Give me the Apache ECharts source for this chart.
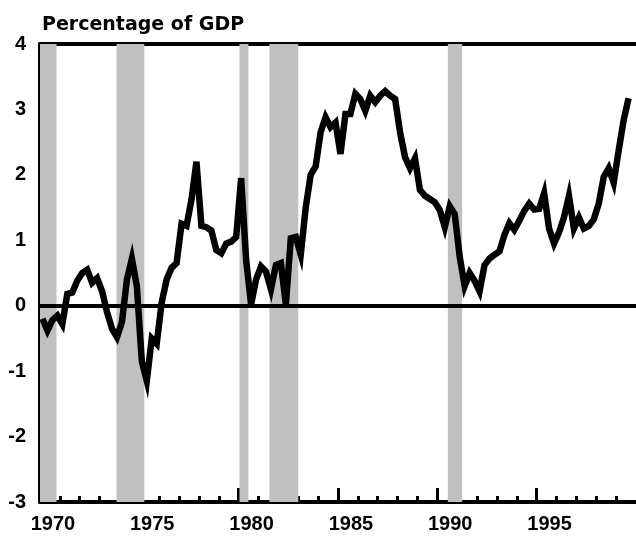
<!DOCTYPE html>
<html>
<head>
<meta charset="utf-8">
<script src="https://cdn.jsdelivr.net/npm/echarts@6/dist/echarts.min.js"></script>
<style>
  html, body { margin: 0; padding: 0; background: #fff; }
  #chart { width: 636px; height: 538px; }
</style>
</head>
<body>
<div id="chart"></div>
<script>
// quarterly data, first point 1970 Q1
var startYear = 1970;
var values = [
  -0.2, -0.38, -0.22, -0.15, -0.28, 0.18, 0.2, 0.38,
  0.5, 0.55, 0.35, 0.42, 0.22, -0.1, -0.35, -0.48,
  -0.25, 0.4, 0.72, 0.3, -0.85, -1.15, -0.5, -0.58,
  0.05, 0.4, 0.58, 0.65, 1.25, 1.22, 1.62, 2.2,
  1.22, 1.2, 1.15, 0.85, 0.8, 0.95, 0.98, 1.05,
  1.95, 0.7, 0.02, 0.4, 0.6, 0.52, 0.25, 0.62,
  0.65, 0.02, 1.03, 1.05, 0.78, 1.5, 2.0, 2.13,
  2.65, 2.88, 2.73, 2.8, 2.32, 2.93, 2.93, 3.24,
  3.16, 2.98, 3.21, 3.11, 3.21, 3.28, 3.21, 3.16,
  2.65, 2.27, 2.1, 2.25, 1.77, 1.68, 1.63, 1.58,
  1.46, 1.2, 1.52, 1.4, 0.75, 0.3, 0.5, 0.38,
  0.22, 0.62, 0.72, 0.78, 0.83, 1.08, 1.26, 1.16,
  1.3, 1.45, 1.56, 1.47, 1.48, 1.72, 1.18, 0.95,
  1.12, 1.35, 1.68, 1.18, 1.35, 1.18, 1.22, 1.32,
  1.56, 1.97, 2.1, 1.88, 2.37, 2.83, 3.17
];

// recessions (shaded)
var recessionStart = [1970.0, 1973.85, 1980.04, 1981.55, 1990.53];
var recessionEnd = [1970.83, 1975.25, 1980.49, 1983.0, 1991.25];

var yearLabels = [1970, 1975, 1980, 1985, 1990, 1995];
var majorTicks = [1975, 1980, 1985, 1990, 1995];
var minorTicks = [];
for (var y = 1971; y < 2000; y++) {
  if (y % 5 != 0) minorTicks.push(y);
}

var lineData = values.map(function (v, i) {
  return [startYear + 0.125 + i * 0.25, v];
});

var shading = recessionStart.map(function (s, i) {
  return [{ xAxis: s }, { xAxis: recessionEnd[i] }];
});

var labelFont = {
  color: '#000',
  fontFamily: 'Liberation Sans',
  fontWeight: 'bold',
  fontSize: 20
};

var chart = echarts.init(document.getElementById('chart'));
chart.setOption({
  animation: false,
  title: {
    text: 'Percentage of GDP',
    left: 37,
    top: 11,
    textStyle: {
      color: '#000',
      fontFamily: 'DejaVu Sans',
      fontWeight: 'bold',
      fontSize: 19
    }
  },
  grid: { left: 40, right: 0, top: 44, bottom: 36 },
  xAxis: [
    {
      type: 'value',
      min: 1970,
      max: 2000,
      axisLine: { onZero: false, lineStyle: { color: '#000', width: 4 } },
      axisTick: {
        inside: true,
        length: 14,
        customValues: majorTicks,
        lineStyle: { color: '#000', width: 3 }
      },
      axisLabel: Object.assign({
        margin: 12,
        customValues: yearLabels.map(function (y) { return y + 0.65; }),
        formatter: function (v) { return Math.floor(v); }
      }, labelFont),
      splitLine: { show: false }
    },
    {
      // minor yearly ticks
      type: 'value',
      min: 1970,
      max: 2000,
      position: 'bottom',
      axisLine: { show: false, onZero: false },
      axisTick: {
        inside: true,
        length: 6,
        customValues: minorTicks,
        lineStyle: { color: '#000', width: 3 }
      },
      axisLabel: { show: false },
      splitLine: { show: false }
    },
    {
      // top frame line
      type: 'value',
      min: 1970,
      max: 2000,
      position: 'top',
      axisLine: { onZero: false, lineStyle: { color: '#000', width: 4 } },
      axisTick: { show: false },
      axisLabel: { show: false },
      splitLine: { show: false }
    }
  ],
  yAxis: {
    type: 'value',
    min: -3,
    max: 4,
    interval: 1,
    axisLine: { show: true, onZero: false, lineStyle: { color: '#000', width: 4 } },
    axisTick: { inside: true, length: 16, lineStyle: { color: '#000', width: 3 } },
    minorTick: { show: true, splitNumber: 2, length: 7, lineStyle: { color: '#000', width: 3 } },
    axisLabel: Object.assign({ margin: 14 }, labelFont),
    splitLine: { show: false }
  },
  series: [
    {
      type: 'line',
      data: lineData,
      showSymbol: false,
      lineStyle: { color: '#000', width: 6.5, join: 'miter', miterLimit: 6 },
      markArea: {
        silent: true,
        itemStyle: { color: '#c0c0c0' },
        data: shading
      },
      markLine: {
        silent: true,
        symbol: 'none',
        label: { show: false },
        lineStyle: { color: '#000', width: 4, type: 'solid' },
        data: [{ yAxis: 0 }]
      }
    }
  ]
});
</script>
</body>
</html>
